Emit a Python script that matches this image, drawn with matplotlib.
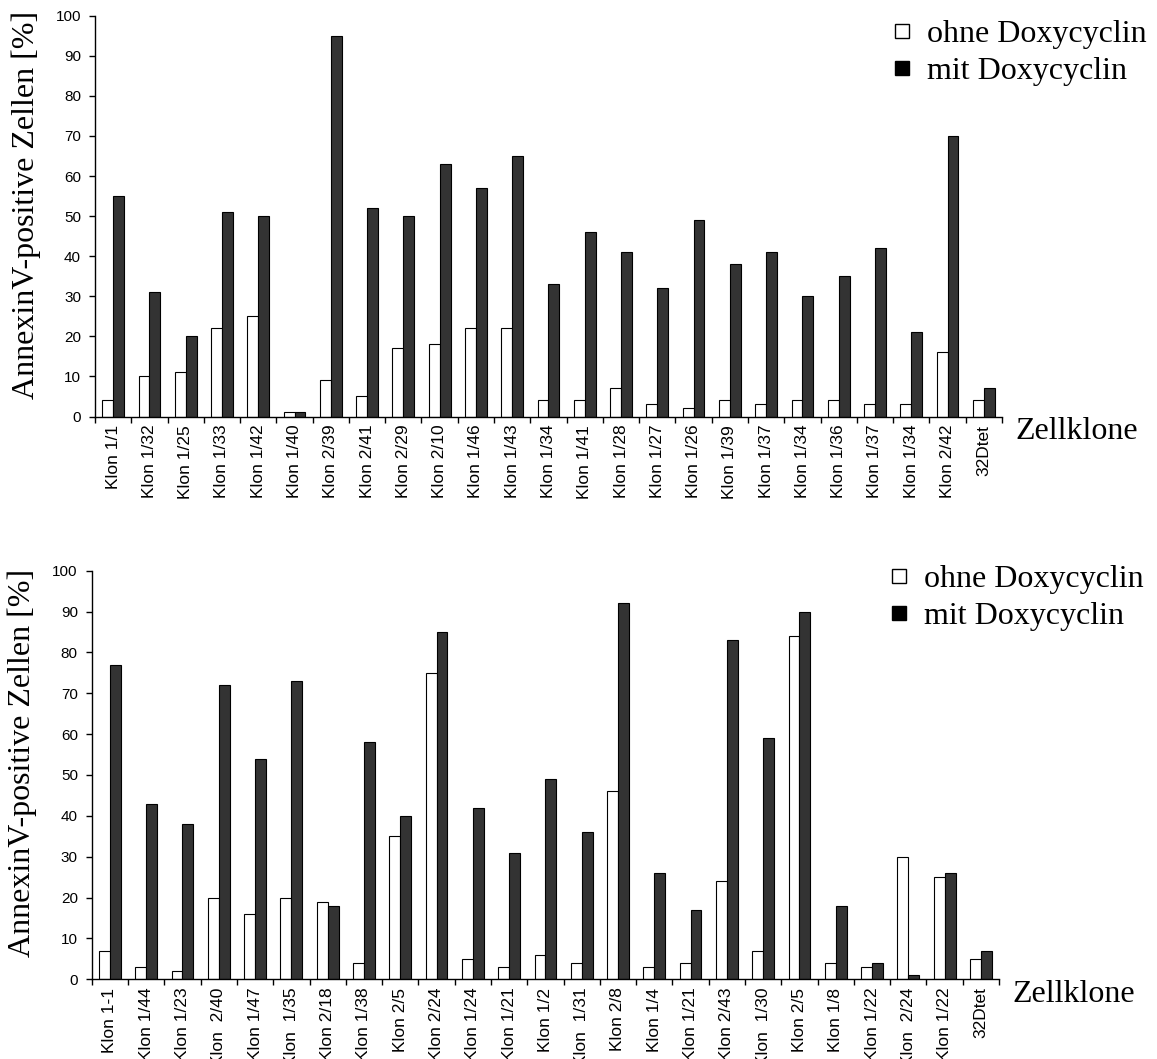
import numpy as np
import matplotlib
matplotlib.use('Agg')
import matplotlib.pyplot as plt
from matplotlib.lines import Line2D

# upper panel
top_clones = ['Klon 1/1', 'Klon 1/32', 'Klon 1/25', 'Klon 1/33', 'Klon 1/42', 'Klon 1/40',
              'Klon 2/39', 'Klon 2/41', 'Klon 2/29', 'Klon 2/10', 'Klon 1/46', 'Klon 1/43',
              'Klon 1/34', 'Klon 1/41', 'Klon 1/28', 'Klon 1/27', 'Klon 1/26', 'Klon 1/39',
              'Klon 1/37', 'Klon 1/34', 'Klon 1/36', 'Klon 1/37', 'Klon 1/34', 'Klon 2/42', '32Dtet']
top_ohne = [4, 10, 11, 22, 25, 1, 9, 5, 17, 18, 22, 22, 4, 4, 7, 3, 2, 4, 3, 4, 4, 3, 3, 16, 4]
top_mit = [55, 31, 20, 51, 50, 1, 95, 52, 50, 63, 57, 65, 33, 46, 41, 32, 49, 38, 41, 30, 35, 42, 21, 70, 7]

# lower panel
bottom_clones = ['Klon 1-1', 'Klon 1/44', 'Klon 1/23', 'Klon  2/40', 'Klon 1/47', 'Klon  1/35',
                 'Klon 2/18', 'Klon 1/38', 'Klon 2/5', 'Klon 2/24', 'Klon 1/24', 'Klon 1/21',
                 'Klon 1/2', 'Klon  1/31', 'Klon 2/8', 'Klon 1/4', 'Klon 1/21', 'Klon 2/43',
                 'Klon  1/30', 'Klon 2/5', 'Klon 1/8', 'Klon 1/22', 'Klon  2/24', 'Klon 1/22', '32Dtet']
bottom_ohne = [7, 3, 2, 20, 16, 20, 19, 4, 35, 75, 5, 3, 6, 4, 46, 3, 4, 24, 7, 84, 4, 3, 30, 25, 5]
bottom_mit = [77, 43, 38, 72, 54, 73, 18, 58, 40, 85, 42, 31, 49, 36, 92, 26, 17, 83, 59, 90, 18, 4, 1, 26, 7]

series_names = ['ohne Doxycyclin', 'mit Doxycyclin']
ylabel = 'AnnexinV-positive Zellen [%]'

plt.rcParams['font.family'] = ['Liberation Sans', 'DejaVu Sans']
serif = 'Liberation Serif'

fig = plt.figure(figsize=(11.57, 10.59), dpi=100)


def draw_panel(rect, clones, ohne, mit, legend_y):
    ax = fig.add_axes(rect)
    x = np.arange(len(clones))
    w = 0.3
    ax.bar(x - w / 2, ohne, w, color='white', edgecolor='black', linewidth=0.8)
    ax.bar(x + w / 2, mit, w, color='#333333', edgecolor='black', linewidth=0.8)

    ax.set_xlim(-0.5, len(clones) - 0.5)
    ax.set_ylim(0, 100)
    ax.set_yticks(np.arange(0, 101, 10))
    # group boundaries as major ticks, names on minor ticks
    ax.set_xticks(np.arange(len(clones) + 1) - 0.5)
    ax.set_xticklabels([])
    ax.set_xticks(x, minor=True)
    ax.set_xticklabels(clones, minor=True, rotation=90, fontsize=12.5)
    ax.tick_params(axis='x', which='minor', length=0, pad=6)
    ax.tick_params(axis='x', which='major', length=4, width=1)
    ax.tick_params(axis='y', length=4, width=1, labelsize=11, pad=6)
    for s in ['top', 'right']:
        ax.spines[s].set_visible(False)
    for s in ['left', 'bottom']:
        ax.spines[s].set_linewidth(1)

    ax.set_ylabel(ylabel, family=serif, fontsize=23)
    ax.yaxis.set_label_coords(-0.06, 0.529)
    ax.text(1.015, -0.037, 'Zellklone', transform=ax.transAxes,
            family=serif, fontsize=23, ha='left', va='center')

    handles = [Line2D([], [], marker='s', linestyle='none', markersize=10.5,
                      markerfacecolor=fc, markeredgecolor='black', markeredgewidth=1)
               for fc in ['white', 'black']]
    ax.legend(handles, series_names, loc='upper left', bbox_to_anchor=(0.882, legend_y),
              frameon=False, prop={'family': serif, 'size': 23}, borderpad=0,
              handlelength=0.45, handletextpad=0.55, labelspacing=0.25, borderaxespad=0)
    return ax


draw_panel([0.0821, 0.6067, 0.7839, 0.3785], top_clones, top_ohne, top_mit, 0.99)
draw_panel([0.0793, 0.0753, 0.7842, 0.3858], bottom_clones, bottom_ohne, bottom_mit, 1.015)

fig.savefig('out.png', dpi=100)
